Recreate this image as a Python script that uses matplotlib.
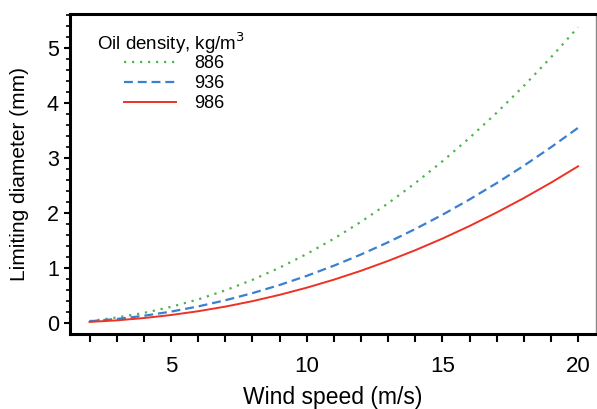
import matplotlib
matplotlib.use("Agg")
import matplotlib.pyplot as plt
import numpy as np

plt.rcParams['font.family'] = ['Liberation Sans', 'DejaVu Sans']

wind_speed = [2, 3, 4, 5, 6, 7, 8, 9, 10, 11, 12, 13, 14, 15, 16, 17, 18, 19, 20]
d_886 = [0.035, 0.100, 0.183, 0.293, 0.429, 0.593, 0.785, 1.006, 1.255, 1.533,
         1.840, 2.177, 2.544, 2.940, 3.367, 3.824, 4.312, 4.831, 5.380]
d_936 = [0.032, 0.073, 0.131, 0.207, 0.301, 0.413, 0.543, 0.691, 0.857, 1.042,
         1.246, 1.468, 1.709, 1.968, 2.247, 2.544, 2.860, 3.196, 3.550]
d_986 = [0.020, 0.048, 0.090, 0.145, 0.214, 0.298, 0.397, 0.512, 0.642, 0.788,
         0.950, 1.129, 1.324, 1.535, 1.764, 2.010, 2.272, 2.552, 2.850]
series_labels = ['886', '936', '986']
legend_title = 'Oil density, kg/m$^3$'
x_tick_labels = ['5', '10', '15', '20']
y_tick_labels = ['0', '1', '2', '3', '4', '5']

W, H = 597, 409
fig = plt.figure(figsize=(W / 100, H / 100), dpi=100)
ax = fig.add_axes([70 / W, 1 - 334 / H, (596 - 70) / W, (334 - 14) / H])

ax.plot(wind_speed, d_886, color='#4db34d', linestyle=(0, (1, 2.6)), linewidth=1.6,
        label=series_labels[0])
ax.plot(wind_speed, d_936, color='#3b7fd0', linestyle=(0, (4, 2.2)), linewidth=1.6,
        label=series_labels[1])
ax.plot(wind_speed, d_986, color='#ee3124', linestyle='-', linewidth=1.4,
        label=series_labels[2])

ax.set_xlim(1.28, 20.66)
ax.set_ylim(-0.2, 5.62)

ax.set_xticks(np.arange(2, 21, 1))
ax.set_xticklabels(['' if v % 5 else x_tick_labels[v // 5 - 1] for v in range(2, 21)])
ax.set_yticks([0, 1, 2, 3, 4, 5])
ax.set_yticklabels(y_tick_labels)
ax.set_yticks(np.arange(0, 5.61, 0.2), minor=True)

ax.tick_params(axis='x', which='major', direction='out', length=6, width=1.5,
               labelsize=16, pad=10)
ax.tick_params(axis='y', which='major', direction='out', length=4, width=1.5,
               labelsize=15.5, pad=4)
ax.tick_params(axis='y', which='minor', direction='out', length=3, width=1.2)

for side in ['top', 'left', 'bottom']:
    ax.spines[side].set_linewidth(2.2)
    ax.spines[side].set_color('black')
ax.spines['right'].set_linewidth(1.0)
ax.spines['right'].set_color('#888888')

ax.set_xlabel('Wind speed (m/s)', fontsize=16.5, labelpad=6)
ax.set_ylabel('Limiting diameter (mm)', fontsize=15, labelpad=13)

fig.text(97 / W, 1 - 43 / H, legend_title, fontsize=13.5, ha='left', va='center')
leg = ax.legend(loc='upper left', bbox_to_anchor=(124 / W, 1 - 55 / H),
                bbox_transform=fig.transFigure, frameon=False, fontsize=13,
                handlelength=2.9, handletextpad=1.0, labelspacing=0.17,
                borderpad=0, borderaxespad=0)

fig.savefig('out.png', dpi=100)
